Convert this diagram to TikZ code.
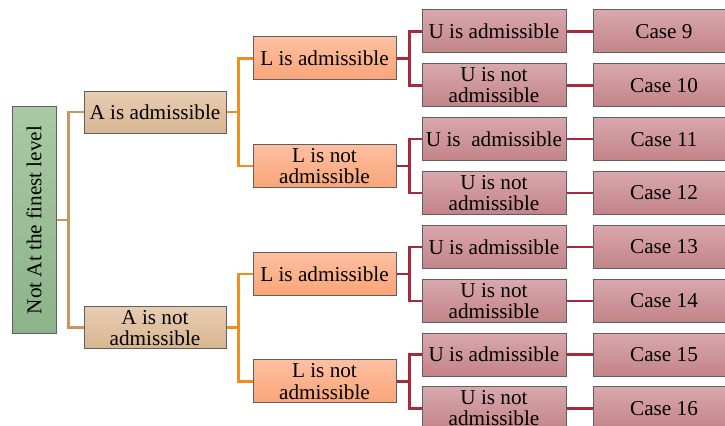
\documentclass[tikz,border=0pt]{standalone}
\usepackage{fontspec}
\setmainfont{LiberationSerif}[Extension=.ttf, UprightFont=*-Regular, BoldFont=*-Bold]
\usetikzlibrary{positioning}

\definecolor{rootTop}{HTML}{A9C9A4}
\definecolor{rootBot}{HTML}{8CB389}
\definecolor{aTop}{HTML}{E8CDB3}
\definecolor{aBot}{HTML}{D7B58F}
\definecolor{lTop}{HTML}{FDC0A1}
\definecolor{lBot}{HTML}{F9A477}
\definecolor{uTop}{HTML}{D9A8AD}
\definecolor{uBot}{HTML}{C28388}
\definecolor{tanLine}{HTML}{C8965E}
\definecolor{orangeLine}{HTML}{F28C1C}
\definecolor{redLine}{HTML}{A52A3C}

\begin{document}
\begin{tikzpicture}[
  x=0.5pt, y=-0.5pt,
  box/.style={rectangle, draw=gray!75!black, line width=0.5pt, align=center, inner sep=0pt, font=\rmfamily\fontsize{10.6}{10.6}\selectfont},
  rootbox/.style={box, top color=rootTop, bottom color=rootBot, minimum width=22pt, minimum height=113.5pt},
  abox/.style={box, top color=aTop, bottom color=aBot, minimum width=71pt, minimum height=21pt},
  lbox/.style={box, top color=lTop, bottom color=lBot, minimum width=71.5pt, minimum height=21.5pt},
  ubox/.style={box, top color=uTop, bottom color=uBot, minimum width=72pt, minimum height=21.5pt},
  casebox/.style={box, top color=uTop, bottom color=uBot, minimum width=71pt, minimum height=21.5pt},
  link/.style={line width=1.2pt}
]
  \useasboundingbox (0,0) rectangle (725,426);

  \node[rootbox] (root) at (34,220) {\rotatebox{90}{Not At the finest level}};

  \node[abox] (a1) at (155,112.3) {A is admissible};
  \node[abox] (a2) at (155,327.7) {A is not\\admissible};

  \node[lbox] (l1) at (324.5,58.4) {L is admissible};
  \node[lbox] (l2) at (324.5,166.1) {L is not\\admissible};
  \node[lbox] (l3) at (324.5,273.8) {L is admissible};
  \node[lbox] (l4) at (324.5,381.5) {L is not\\admissible};

  \node[ubox] (u1) at (494,31.5) {U is admissible};
  \node[ubox] (u2) at (494,85.35) {U is not\\admissible};
  \node[ubox] (u3) at (494,139.2) {U is\ \ admissible};
  \node[ubox] (u4) at (494,193.05) {U is not\\admissible};
  \node[ubox] (u5) at (494,246.9) {U is admissible};
  \node[ubox] (u6) at (494,300.75) {U is not\\admissible};
  \node[ubox] (u7) at (494,354.6) {U is admissible};
  \node[ubox] (u8) at (494,408.45) {U is not\\admissible};

  \node[casebox] (c9) at (664,31.5) {Case 9};
  \node[casebox] (c10) at (664,85.35) {Case 10};
  \node[casebox] (c11) at (664,139.2) {Case 11};
  \node[casebox] (c12) at (664,193.05) {Case 12};
  \node[casebox] (c13) at (664,246.9) {Case 13};
  \node[casebox] (c14) at (664,300.75) {Case 14};
  \node[casebox] (c15) at (664,354.6) {Case 15};
  \node[casebox] (c16) at (664,408.45) {Case 16};

  % root to A
  \draw[link, tanLine] (a1.west) -- +(-15,0) |- (root.east);
  \draw[link, tanLine] (a2.west) -- +(-15,0) |- (root.east);

  % A to L
  \draw[link, orangeLine] (l1.west) -- +(-14,0) |- (a1.east);
  \draw[link, orangeLine] (l2.west) -- +(-14,0) |- (a1.east);
  \draw[link, orangeLine] (l3.west) -- +(-14,0) |- (a2.east);
  \draw[link, orangeLine] (l4.west) -- +(-14,0) |- (a2.east);

  % L to U
  \draw[link, redLine] (u1.west) -- +(-12,0) |- (l1.east);
  \draw[link, redLine] (u2.west) -- +(-12,0) |- (l1.east);
  \draw[link, redLine] (u3.west) -- +(-12,0) |- (l2.east);
  \draw[link, redLine] (u4.west) -- +(-12,0) |- (l2.east);
  \draw[link, redLine] (u5.west) -- +(-12,0) |- (l3.east);
  \draw[link, redLine] (u6.west) -- +(-12,0) |- (l3.east);
  \draw[link, redLine] (u7.west) -- +(-12,0) |- (l4.east);
  \draw[link, redLine] (u8.west) -- +(-12,0) |- (l4.east);

  % U to cases
  \draw[link, redLine] (u1) -- (c9);
  \draw[link, redLine] (u2) -- (c10);
  \draw[link, redLine] (u3) -- (c11);
  \draw[link, redLine] (u4) -- (c12);
  \draw[link, redLine] (u5) -- (c13);
  \draw[link, redLine] (u6) -- (c14);
  \draw[link, redLine] (u7) -- (c15);
  \draw[link, redLine] (u8) -- (c16);
\end{tikzpicture}
\end{document}
